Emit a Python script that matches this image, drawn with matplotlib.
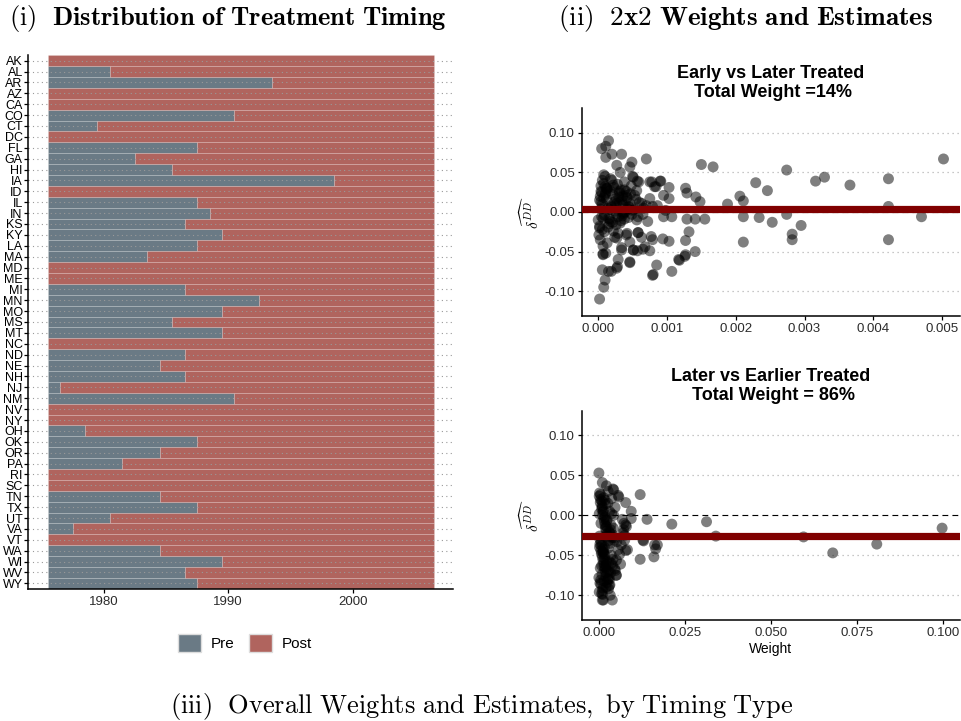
import matplotlib
matplotlib.use("Agg")
import matplotlib.pyplot as plt
from matplotlib.patches import Patch
import numpy as np

plt.rcParams['font.family'] = ['Liberation Sans', 'DejaVu Sans']
plt.rcParams['mathtext.fontset'] = 'cm'

# ---------------- Data ----------------
states = ["AK","AL","AR","AZ","CA","CO","CT","DC","FL","GA","HI","IA","ID","IL","IN","KS","KY","LA","MA","MD",
          "ME","MI","MN","MO","MS","MT","NC","ND","NE","NH","NJ","NM","NV","NY","OH","OK","OR","PA","RI","SC",
          "TN","TX","UT","VA","VT","WA","WI","WV","WY"]
treat_year = [1976,1981,1994,1976,1976,1991,1980,1976,1988,1983,1986,1999,1976,1988,1989,1987,1990,1988,1984,1976,
              1976,1987,1993,1990,1986,1990,1976,1987,1985,1987,1977,1991,1976,1976,1979,1988,1985,1982,1976,1976,
              1985,1988,1981,1978,1976,1985,1990,1987,1988]
first_year, last_year = 1976, 2006
year_ticks = [1980, 1990, 2000]

# Early vs Later treated: (weight, estimate)
early_w = [0.00502,0.00422,0.00422,0.00422,0.00470,0.00366,0.00329,0.00316,0.00295,0.00282,0.00282,0.00274,0.00274,
           0.00253,0.00246,0.00234,0.00229,0.00211,0.00211,0.00211,0.00206,0.00188,0.00167,0.00150,0.00155,0.00148,
           0.00141,0.00141,0.00142,0.00129,0.00127,0.00129,0.00127,0.00132,0.00127,0.00118,0.00107,0.00107,0.00103,
           0.00103,0.00103,0.00095,0.00095,0.00094,0.00091,0.00085,0.00079,0.00079,0.00084,0.00078,0.00075,0.00079,
           0.00070,0.00070,0.00075,0.00068,0.00063,0.00059,0.00058,0.00057,0.00056,0.00049,0.00046,0.00051,0.00046,
           0.00051,0.00042,0.00034,0.00032,0.00027,0.00034,0.00029,0.00027,0.00024,0.00022,0.00019,0.00015,0.00011,
           0.00005,0.00011,0.00020,0.00010,0.00006,0.00013,0.00011,0.00007,0.00006,0.00010,0.00008,0.00002,0.00015,
           0.00008,0.00004,0.00004,0.00010,0.00002,0.00017,0.00038,0.00050,0.00057,0.00041,0.00031,0.00056,0.00034,
           0.00024,0.00075,0.00082,0.00090,0.00063,0.00005,0.00000,0.00002,0.00001,0.00015,0.00029,0.00038,0.00052,
           0.00058,0.00065,0.00029,0.00027,0.00041,0.00058,0.00077,0.00007,0.00007,0.00034,0.00051,0.00065,0.00028,
           0.00046,0.00080,0.00117,0.00126,
           0.00003,0.00006,0.00009,0.00012,0.00014,0.00018,0.00021,0.00025,0.00028,0.00031,0.00035,0.00038,0.00042,
           0.00045,0.00048,0.00053,0.00002,0.00005,0.00008,0.00012,0.00016,0.00019,0.00023,0.00026,0.00030,0.00033,
           0.00036,0.00040,0.00044,0.00047,0.00050,0.00055,0.00004,0.00009,0.00013,0.00017,0.00022,0.00027,0.00032,
           0.00036,0.00043,0.00049,0.00003,0.00008,0.00014,0.00020,0.00026,0.00033,0.00039,0.00046,0.00010,0.00018,
           0.00025,0.00037,0.00044,0.00060,0.00066,0.00072,0.00086,0.00098,
           0.00004,0.00007,0.00011,0.00016,0.00021,0.00026,0.00031,0.00036,0.00041,0.00047,0.00006,0.00013,0.00019]
early_est = [0.067,0.042,0.007,-0.035,-0.006,0.034,0.044,0.039,-0.017,-0.028,-0.035,0.053,-0.003,
             -0.013,0.027,-0.007,0.037,-0.006,-0.038,0.014,0.020,0.010,0.057,0.060,-0.009,0.013,
             -0.009,-0.050,0.019,-0.009,0.030,0.024,-0.036,-0.025,-0.054,-0.061,-0.075,-0.006,-0.037,
             0.017,0.031,-0.006,0.021,-0.034,0.039,-0.067,-0.080,-0.035,0.032,0.038,0.017,0.007,
             0.067,0.008,-0.049,-0.044,-0.032,0.038,-0.026,-0.049,-0.010,0.063,0.057,0.044,-0.063,
             -0.048,-0.027,0.073,0.050,0.059,-0.048,-0.060,-0.071,-0.032,-0.024,-0.075,0.090,0.083,
             0.080,0.069,0.073,0.045,0.040,-0.039,-0.052,-0.053,-0.073,-0.086,-0.095,-0.110,-0.075,
             0.047,0.033,0.026,0.032,0.015,0.027,0.038,0.045,0.039,0.026,0.024,0.027,0.015,
             0.013,0.038,0.032,0.039,0.011,-0.006,-0.010,-0.018,-0.029,-0.008,-0.006,-0.009,0.003,
             -0.006,-0.003,-0.027,-0.033,-0.029,-0.026,-0.031,-0.043,-0.054,-0.045,-0.048,-0.047,-0.069,
             -0.064,-0.079,-0.060,-0.056,
             0.020,0.010,-0.004,0.030,0.005,-0.012,0.022,0.001,0.035,0.012,-0.005,0.028,0.018,
             0.006,0.033,0.021,-0.020,0.025,0.036,0.016,-0.015,0.008,0.031,-0.002,0.019,-0.011,
             0.009,0.014,-0.007,0.023,0.002,0.016,0.004,-0.025,0.029,-0.009,0.034,0.011,-0.014,
             0.020,0.004,-0.003,-0.035,0.018,-0.019,0.040,-0.016,0.028,0.000,-0.038,0.022,0.042,
             0.009,-0.002,0.007,0.012,0.005,-0.012,0.008,0.002,
             0.013,-0.008,0.024,0.003,-0.013,0.017,0.026,-0.001,0.021,0.010,-0.022,0.030,0.006]

# Later vs Earlier treated: (weight, estimate)
later_w = [0.0998,0.0808,0.0680,0.0595,0.0340,0.0313,0.0212,0.0140,0.0120,0.0120,0.0130,0.0160,0.0165,0.0170,
           0.0094,0.0094,0.0078,0.0078,0.0078,0.0070,0.0058,0.0060,0.0063,0.0050,0.0043,0.0039,0.0010,0.0000,
           0.0010,0.0022,0.0041,0.0056,0.0073,0.0080,0.0075,0.0075,0.0065,0.0083,0.0056,0.0051,0.0048,0.0051,
           0.0128,0.0162,0.0008,0.0013,0.0037,0.0068,0.0072,0.0044,0.0036,0.0031,0.0047,0.0052,
           0.0002,0.0005,0.0009,0.0012,0.0015,0.0018,0.0021,0.0025,0.0003,0.0006,0.0010,0.0014,0.0017,0.0020,
           0.0024,0.0028,0.0001,0.0004,0.0008,0.0011,0.0016,0.0019,0.0023,0.0027,0.0002,0.0007,0.0012,0.0015,
           0.0020,0.0026,0.0030,0.0001,0.0005,0.0009,0.0013,0.0018,0.0022,0.0032,0.0003,0.0008,0.0011,0.0016,
           0.0021,0.0029,0.0000,0.0006,0.0010,0.0014,0.0019,0.0024,0.0034,0.0002,0.0007,0.0012,0.0017,0.0023,
           0.0004,0.0009,0.0015,0.0021,0.0027,0.0001,0.0006,0.0013,0.0019,0.0033,0.0003,0.0010,0.0016,0.0025,
           0.0026,0.0031,0.0035,0.0029,0.0038,0.0033,0.0027,0.0036,0.0030,0.0040,0.0034,0.0028,0.0032,0.0037,
           0.0042,0.0039,0.0045,0.0041,0.0046,0.0043,0.0012,0.0018,0.0008,0.0022,0.0014,0.0005,0.0019,0.0011]
later_est = [-0.016,-0.036,-0.047,-0.027,-0.026,-0.008,-0.011,-0.005,0.026,-0.055,-0.032,-0.052,-0.042,-0.037,
             0.005,-0.004,0.016,-0.012,-0.044,-0.022,0.023,-0.049,-0.061,-0.075,0.032,-0.106,-0.106,0.053,
             0.041,0.037,0.033,0.025,-0.010,-0.014,-0.025,-0.031,-0.037,-0.043,-0.043,-0.056,-0.069,-0.075,
             -0.031,-0.037,-0.098,-0.106,0.002,-0.005,-0.018,-0.028,-0.060,-0.080,0.010,-0.033,
             0.028,0.020,0.012,0.004,-0.004,-0.012,-0.020,-0.028,-0.036,-0.044,-0.052,-0.060,-0.068,-0.076,
             -0.084,-0.092,0.024,0.016,0.008,0.000,-0.008,-0.016,-0.024,-0.032,-0.040,-0.048,-0.056,-0.064,
             -0.072,-0.080,-0.088,-0.096,0.026,0.018,0.006,-0.002,-0.014,-0.022,-0.030,-0.038,-0.046,-0.054,
             -0.062,-0.070,-0.078,-0.086,-0.094,0.022,0.014,-0.006,-0.018,-0.026,-0.034,-0.042,-0.050,-0.058,
             -0.066,-0.074,-0.082,-0.090,0.030,0.002,-0.010,-0.045,-0.065,-0.100,-0.085,0.010,-0.040,-0.070,
             0.015,0.005,-0.012,-0.020,-0.028,-0.035,-0.041,-0.050,-0.058,-0.063,-0.072,-0.079,-0.087,0.021,
             -0.016,-0.024,-0.031,-0.055,-0.067,0.000,-0.091,0.019,-0.063,-0.007,-0.047,-0.081,-0.027,-0.099]

early_mean = 0.0042
later_mean = -0.026
early_title = "Early vs Later Treated\n Total Weight =14%"
later_title = "Later vs Earlier Treated\n Total Weight = 86%"

pre_color = "#6a7a85"
post_color = "#b0645e"
text_col = "#2b2b2b"

# ---------------- Figure ----------------
W, H = 962, 721
fig = plt.figure(figsize=(W/100, H/100), dpi=100)

def box(l, t, r, b):
    return [l/W, 1 - b/H, (r - l)/W, (b - t)/H]

# Left panel
ax0 = fig.add_axes(box(28.3, 55, 453, 589))
n = len(states)
ypos = np.arange(n)
tr = np.array(treat_year, dtype=float)
pre_left = first_year - 0.5
pre_w = tr - 0.5 - pre_left
post_w = (last_year + 0.5) - (tr - 0.5)
ax0.barh(ypos, pre_w, left=pre_left, height=1.0, color=pre_color, edgecolor=(1, 1, 1, 0.25), linewidth=0.4, zorder=1)
ax0.barh(ypos, post_w, left=tr - 0.5, height=1.0, color=post_color, edgecolor=(1, 1, 1, 0.25), linewidth=0.4, zorder=1)
for y in ypos:
    ax0.axhline(y, color="#9a9a9a", linestyle=(0, (1, 3)), linewidth=0.8, zorder=2)
ax0.set_xlim(1973.95, 2008.05)
ax0.set_ylim(n - 0.5 + 0.02, -0.5 - 0.02)
ax0.set_yticks(ypos)
ax0.set_yticklabels(states, fontsize=9, color="black")
ax0.set_xticks(year_ticks)
ax0.set_xticklabels([str(v) for v in year_ticks], fontsize=9.5, color=text_col)
for s in ["top", "right"]:
    ax0.spines[s].set_visible(False)
for s in ["left", "bottom"]:
    ax0.spines[s].set_linewidth(1.1)
ax0.tick_params(axis="both", length=3, width=0.9, pad=2)
ax0.tick_params(axis="y", pad=1)

handles = [Patch(facecolor=pre_color, edgecolor="#dddddd", label="Pre"),
           Patch(facecolor=post_color, edgecolor="#dddddd", label="Post")]
fig.legend(handles=handles, loc="center", bbox_to_anchor=(245/W, 1 - 643/H), ncol=2, frameon=False,
           fontsize=11, handlelength=1.5, handleheight=1.5, columnspacing=1.0, handletextpad=0.6)

def scatter_panel(rect, w, est, mean, title, xlim, xticks, xticklabels, xlabel=None):
    ax = fig.add_axes(rect)
    for yv in [-0.10, -0.05, 0.0, 0.05, 0.10]:
        ax.axhline(yv, color="#b5b5b5", linestyle=(0, (1, 3)), linewidth=0.9, zorder=0)
    ax.axhline(0, color="black", linestyle=(0, (5, 4)), linewidth=0.8, zorder=1)
    ax.scatter(w, est, s=62, color="black", alpha=0.5, edgecolors="none", zorder=2)
    ax.axhline(mean, color="#800000", linewidth=5.2, zorder=3)
    ax.set_xlim(*xlim)
    ax.set_ylim(-0.131, 0.131)
    ax.set_yticks([-0.10, -0.05, 0.0, 0.05, 0.10])
    ax.set_yticklabels(["-0.10", "-0.05", "0.00", "0.05", "0.10"], fontsize=9.5, color=text_col)
    ax.set_xticks(xticks)
    ax.set_xticklabels(xticklabels, fontsize=9.5, color=text_col)
    for s in ["top", "right"]:
        ax.spines[s].set_visible(False)
    for s in ["left", "bottom"]:
        ax.spines[s].set_linewidth(1.1)
    ax.tick_params(axis="both", length=3, width=0.9, pad=2)
    ax.set_ylabel(r"$\widehat{\delta^{DD}}$", fontsize=11, labelpad=2)
    ax.set_title(title, fontsize=13, fontweight="bold", pad=8, linespacing=1.15)
    if xlabel:
        ax.set_xlabel(xlabel, fontsize=10, labelpad=2)
    return ax

scatter_panel(box(581.7, 108.3, 960, 315.7), early_w, early_est, early_mean, early_title,
              (-0.00024, 0.00526), [0, 0.001, 0.002, 0.003, 0.004, 0.005],
              ["0.000", "0.001", "0.002", "0.003", "0.004", "0.005"])
scatter_panel(box(581.7, 410.7, 960, 620), later_w, later_est, later_mean, later_title,
              (-0.005, 0.105), [0, 0.025, 0.05, 0.075, 0.1],
              ["0.000", "0.025", "0.050", "0.075", "0.100"], xlabel="Weight")

fig.text(228/W, 1 - 19/H, r"$\mathrm{(i)}\ \ \mathbf{Distribution\ of\ Treatment\ Timing}$",
         fontsize=19, ha="center", va="center")
fig.text(746/W, 1 - 19/H, r"$\mathrm{(ii)}\ \ \mathbf{2x2\ Weights\ and\ Estimates}$",
         fontsize=19.5, ha="center", va="center")
fig.text(482/W, 1 - 707/H, r"$\mathrm{(iii)\ \ Overall\ Weights\ and\ Estimates,\ by\ Timing\ Type}$",
         fontsize=19, ha="center", va="center")

fig.savefig("out.png", dpi=100)
